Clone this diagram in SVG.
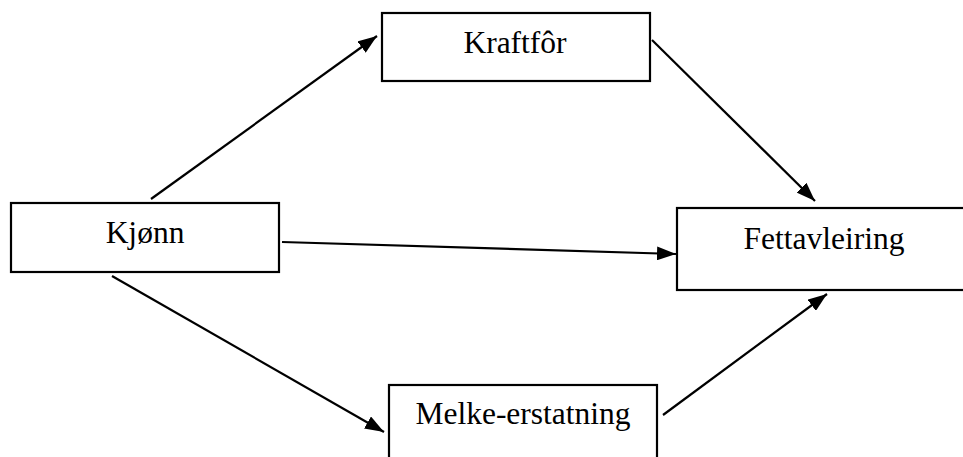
<svg xmlns="http://www.w3.org/2000/svg" width="963" height="457" viewBox="0 0 963 457">
<style>
.box{fill:#fff;stroke:#000;stroke-width:2.2}
.lbl{font-family:"Liberation Serif","Times New Roman",serif;font-size:31.5px;fill:#000;text-anchor:middle}
.edge{stroke:#000;stroke-width:2.2;fill:none;marker-end:url(#ah)}
</style>
<defs>
<marker id="ah" markerUnits="userSpaceOnUse" markerWidth="20" markerHeight="14" refX="19" refY="7" orient="auto">
<path d="M0,0 L19,7 L0,14 z" fill="#000"/>
</marker>
</defs>
<rect width="963" height="457" fill="#fff"/>
<g id="connectors">
<line class="edge" x1="151" y1="199" x2="377" y2="36"/>
<line class="edge" x1="652" y1="40" x2="815" y2="201"/>
<line class="edge" x1="282" y1="242" x2="676" y2="254"/>
<line class="edge" x1="112" y1="276" x2="384" y2="432"/>
<line class="edge" x1="663" y1="415" x2="827" y2="294"/>
</g>
<g id="kraftfor">
<rect class="box" x="382" y="13" width="268" height="68"/>
<text class="lbl" x="515" y="53">Kraftfôr</text>
</g>
<g id="kjonn">
<rect class="box" x="11" y="203" width="268" height="69"/>
<text class="lbl" x="145" y="243">Kjønn</text>
</g>
<g id="fettavleiring">
<rect class="box" x="677" y="208" width="294" height="82"/>
<text class="lbl" x="824" y="249">Fettavleiring</text>
</g>
<g id="melke">
<rect class="box" x="389" y="385" width="268" height="90"/>
<text class="lbl" x="523" y="424">Melke-erstatning</text>
</g>
</svg>
